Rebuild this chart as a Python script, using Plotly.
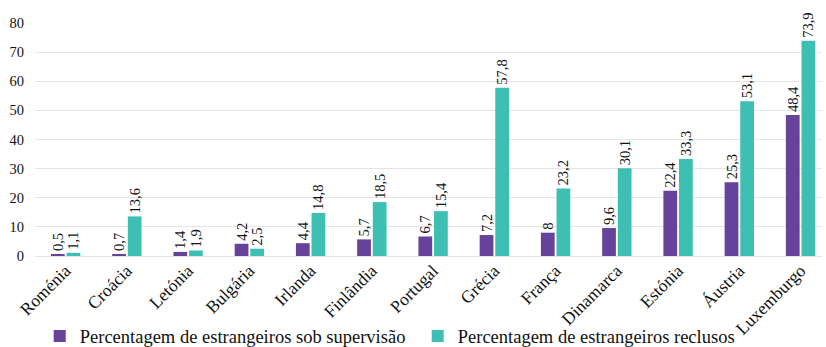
import plotly.graph_objects as go

paises = ["Roménia", "Croácia", "Letónia", "Bulgária", "Irlanda", "Finlândia",
          "Portugal", "Grécia", "França", "Dinamarca", "Estónia", "Áustria",
          "Luxemburgo"]
sob_supervisao = [0.5, 0.7, 1.4, 4.2, 4.4, 5.7, 6.7, 7.2, 8, 9.6, 22.4, 25.3, 48.4]
reclusos = [1.1, 13.6, 1.9, 2.5, 14.8, 18.5, 15.4, 57.8, 23.2, 30.1, 33.3, 53.1, 73.9]
y_ticks = [0, 10, 20, 30, 40, 50, 60, 70, 80]

COR_ROXO = "#66429A"
COR_VERDE = "#3DBFB4"
FONTE = "Liberation Serif"


def rotulo(v):
    return f"{v:g}".replace(".", ",")


fig = go.Figure()
for nome, valores, cor in [
    ("Percentagem de estrangeiros sob supervisão", sob_supervisao, COR_ROXO),
    ("Percentagem de estrangeiros reclusos", reclusos, COR_VERDE),
]:
    fig.add_trace(go.Bar(
        x=paises, y=valores, name=nome,
        marker=dict(color=cor, line=dict(width=0)),
        text=[rotulo(v) for v in valores],
        textposition="outside", textangle=-90, constraintext="none",
        textfont=dict(family=FONTE, size=14.5, color="#111111"),
        cliponaxis=False,
    ))

fig.update_layout(
    width=826, height=347,
    margin=dict(l=35, r=4, t=23, b=91, autoexpand=False),
    paper_bgcolor="white", plot_bgcolor="white",
    barmode="group", bargap=0.49, bargroupgap=0.12,
    font=dict(family=FONTE, color="#111111"),
    legend=dict(
        orientation="h", x=0.006, xanchor="left", y=-0.345, yanchor="middle",
        font=dict(family=FONTE, size=18.5, color="#111111"),
        bgcolor="rgba(0,0,0,0)", entrywidth=333, itemwidth=30,
    ),
)
fig.update_xaxes(
    range=[-0.5, 12.35],
    tickangle=-45, tickfont=dict(family=FONTE, size=17.5, color="#111111"),
    showline=False, showgrid=False, ticks="",
)
fig.update_yaxes(
    range=[0, 80], tickvals=y_ticks,
    tickfont=dict(family=FONTE, size=14.5, color="#111111"),
    showgrid=True, gridcolor="#E4E4E4", gridwidth=1,
    zeroline=True, zerolinecolor="#E4E4E4", zerolinewidth=1,
    ticklabelstandoff=10,
)

fig.write_html("out.html")
